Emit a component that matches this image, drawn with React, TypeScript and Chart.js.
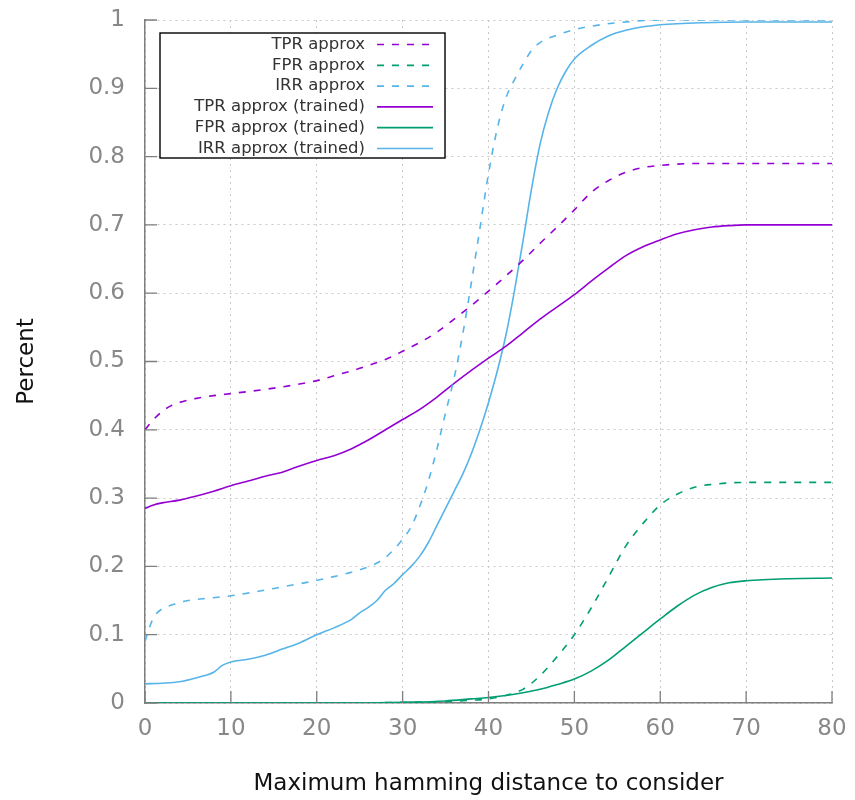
import React, { useEffect, useRef } from "react";
import { Chart, registerables } from "chart.js";
Chart.register(...registerables);

const xTicks = [0, 10, 20, 30, 40, 50, 60, 70, 80];
const yTicks = [0, 0.1, 0.2, 0.3, 0.4, 0.5, 0.6, 0.7, 0.8, 0.9, 1];

const labels = [
  "TPR approx",
  "FPR approx",
  "IRR approx",
  "TPR approx (trained)",
  "FPR approx (trained)",
  "IRR approx (trained)",
];

const tprApproxX = [0, 1, 2, 3, 4, 6, 8, 10, 12, 15, 18, 20, 22, 25, 28, 30, 32, 34, 36, 38, 40, 42, 44, 46, 48, 50, 52, 54, 56, 58, 60, 62, 65, 70, 75, 80];
const tprApproxY = [0.4, 0.415, 0.427, 0.435, 0.44, 0.446, 0.45, 0.453, 0.456, 0.461, 0.467, 0.472, 0.479, 0.49, 0.503, 0.515, 0.528, 0.543, 0.562, 0.582, 0.603, 0.625, 0.648, 0.673, 0.697, 0.722, 0.748, 0.765, 0.777, 0.784, 0.787, 0.789, 0.79, 0.79, 0.79, 0.79];

const fprApproxX = [0, 25, 30, 35, 38, 40, 42, 44, 46, 48, 50, 52, 54, 56, 58, 60, 62, 64, 66, 70, 80];
const fprApproxY = [0, 0, 0.001, 0.002, 0.004, 0.006, 0.011, 0.02, 0.04, 0.068, 0.1, 0.14, 0.185, 0.23, 0.263, 0.29, 0.306, 0.316, 0.32, 0.323, 0.323];

const irrApproxX = [0, 0.5, 1, 2, 3, 5, 7, 10, 13, 16, 19, 22, 25, 27, 28, 29, 30, 31, 32, 33, 34, 35, 36, 37, 38, 39, 40, 41, 42, 43, 44, 45, 46, 48, 50, 52, 55, 60, 80];
const irrApproxY = [0.09, 0.11, 0.125, 0.138, 0.143, 0.15, 0.153, 0.157, 0.163, 0.17, 0.177, 0.185, 0.195, 0.205, 0.213, 0.225, 0.24, 0.258, 0.288, 0.325, 0.372, 0.425, 0.476, 0.54, 0.615, 0.695, 0.775, 0.84, 0.885, 0.912, 0.935, 0.955, 0.967, 0.978, 0.986, 0.991, 0.996, 1, 1];

const tprTrainedX = [0, 1, 2, 4, 6, 8, 10, 12, 14, 16, 18, 20, 22, 24, 26, 28, 30, 32, 34, 36, 38, 40, 42, 44, 46, 48, 50, 52, 54, 56, 58, 60, 62, 64, 66, 68, 70, 75, 80];
const tprTrainedY = [0.285, 0.29, 0.293, 0.297, 0.303, 0.31, 0.318, 0.325, 0.332, 0.338, 0.347, 0.355, 0.362, 0.372, 0.385, 0.4, 0.415, 0.43, 0.448, 0.468, 0.487, 0.505, 0.522, 0.542, 0.562, 0.58, 0.598, 0.618, 0.637, 0.655, 0.668, 0.678, 0.687, 0.693, 0.697, 0.699, 0.7, 0.7, 0.7];

const fprTrainedX = [0, 25, 30, 35, 38, 40, 42, 44, 46, 48, 50, 52, 54, 56, 58, 60, 62, 64, 66, 68, 70, 75, 80];
const fprTrainedY = [0, 0, 0.001, 0.003, 0.006, 0.008, 0.011, 0.015, 0.02, 0.027, 0.035, 0.047, 0.063, 0.083, 0.103, 0.123, 0.142, 0.158, 0.169, 0.176, 0.179, 0.182, 0.183];

const irrTrainedX = [0, 2, 4, 6, 8, 9, 10, 12, 14, 16, 18, 20, 22, 24, 25, 26, 27, 28, 29, 30, 31, 32, 33, 34, 35, 36, 37, 38, 39, 40, 41, 42, 43, 44, 45, 46, 47, 48, 49, 50, 52, 54, 56, 58, 60, 65, 70, 80];
const irrTrainedY = [0.028, 0.029, 0.031, 0.037, 0.045, 0.055, 0.06, 0.064, 0.07, 0.079, 0.088, 0.1, 0.11, 0.122, 0.132, 0.14, 0.15, 0.165, 0.175, 0.188, 0.2, 0.215, 0.235, 0.26, 0.285, 0.31, 0.335, 0.365, 0.4, 0.44, 0.485, 0.537, 0.602, 0.675, 0.752, 0.818, 0.865, 0.9, 0.925, 0.943, 0.963, 0.977, 0.985, 0.99, 0.993, 0.996, 0.997, 0.997];

const PURPLE = "#9400d3";
const GREEN = "#009e73";
const BLUE = "#56b4e9";
const DASH = [7, 8];
const FONT = "'DejaVu Sans', sans-serif";

const zip = (xs: number[], ys: number[]) => xs.map((x, i) => ({ x, y: ys[i] }));

const ds = (label: string, xs: number[], ys: number[], color: string, dashed: boolean) => ({
  label,
  data: zip(xs, ys),
  borderColor: color,
  backgroundColor: color,
  borderWidth: 1.6,
  borderDash: dashed ? DASH : [],
  pointRadius: 0,
  cubicInterpolationMode: "monotone" as const,
  fill: false,
});

const tickPlugin = {
  id: "inwardTicks",
  afterDatasetsDraw(chart: any) {
    const { ctx, chartArea, scales } = chart;
    ctx.save();
    ctx.strokeStyle = "#7f7f7f";
    ctx.lineWidth = 1.3;
    ctx.setLineDash([]);
    ctx.beginPath();
    xTicks.forEach((v) => {
      const px = scales.x.getPixelForValue(v);
      ctx.moveTo(px, chartArea.bottom);
      ctx.lineTo(px, chartArea.bottom - 12);
    });
    yTicks.forEach((v) => {
      const py = scales.y.getPixelForValue(v);
      ctx.moveTo(chartArea.left, py);
      ctx.lineTo(chartArea.left + 12, py);
    });
    ctx.stroke();
    ctx.restore();
  },
};

const legendPlugin = {
  id: "boxLegend",
  afterDraw(chart: any) {
    const { ctx, chartArea } = chart;
    const left = chartArea.left + 15;
    const top = chartArea.top + 13;
    const w = 285;
    const h = 125;
    ctx.save();
    ctx.fillStyle = "#ffffff";
    ctx.fillRect(left, top, w, h);
    ctx.strokeStyle = "#000000";
    ctx.lineWidth = 1.4;
    ctx.setLineDash([]);
    ctx.strokeRect(left, top, w, h);
    ctx.font = "16.5px " + FONT;
    ctx.textAlign = "right";
    ctx.textBaseline = "middle";
    chart.data.datasets.forEach((d: any, i: number) => {
      const y = top + 11.5 + i * 20.8;
      ctx.fillStyle = "#333333";
      ctx.fillText(d.label, left + 205, y);
      ctx.strokeStyle = d.borderColor;
      ctx.lineWidth = 1.7;
      ctx.setLineDash(d.borderDash || []);
      ctx.beginPath();
      ctx.moveTo(left + 217, y);
      ctx.lineTo(left + 273, y);
      ctx.stroke();
    });
    ctx.restore();
  },
};

export default function App() {
  const ref = useRef<HTMLCanvasElement>(null);
  useEffect(() => {
    document.body.style.margin = "0";
    const chart = new Chart(ref.current!, {
      type: "line",
      data: {
        datasets: [
          ds(labels[0], tprApproxX, tprApproxY, PURPLE, true),
          ds(labels[1], fprApproxX, fprApproxY, GREEN, true),
          ds(labels[2], irrApproxX, irrApproxY, BLUE, true),
          ds(labels[3], tprTrainedX, tprTrainedY, PURPLE, false),
          ds(labels[4], fprTrainedX, fprTrainedY, GREEN, false),
          ds(labels[5], irrTrainedX, irrTrainedY, BLUE, false),
        ],
      },
      options: {
        animation: false,
        responsive: false,
        layout: { padding: { top: 20, right: 23, bottom: 0, left: 0 } },
        plugins: { legend: { display: false }, tooltip: { enabled: false } },
        scales: {
          x: {
            type: "linear",
            min: 0,
            max: 80,
            afterFit: (s: any) => { s.height = 97; s.paddingLeft = 0; s.paddingRight = 0; },
            afterBuildTicks: (s: any) => { s.ticks = xTicks.map((v) => ({ value: v })); },
            ticks: { color: "#888888", font: { family: FONT, size: 23 }, padding: 12, maxRotation: 0 },
            grid: { color: "#c8c8c8", lineWidth: 1, drawTicks: false },
            border: { display: true, color: "#7f7f7f", width: 1.5, dash: [2, 4] as any },
            title: { display: true, text: "Maximum hamming distance to consider", color: "#111111", font: { family: FONT, size: 23 }, padding: { top: 0, bottom: 2 } },
          },
          y: {
            type: "linear",
            min: 0,
            max: 1,
            afterFit: (s: any) => { s.width = 145; s.paddingTop = 0; s.paddingBottom = 0; },
            afterBuildTicks: (s: any) => { s.ticks = yTicks.map((v) => ({ value: v })); },
            ticks: { color: "#888888", font: { family: FONT, size: 23 }, padding: 20, callback: (v: any) => String(Math.round(v * 10) / 10) },
            grid: { color: "#c8c8c8", lineWidth: 1, drawTicks: false },
            border: { display: true, color: "#7f7f7f", width: 1.5, dash: [2, 4] as any },
            title: { display: true, text: "Percent", color: "#111111", font: { family: FONT, size: 23 }, padding: { top: 13, bottom: 0 } },
          },
        },
      } as any,
      plugins: [tickPlugin, legendPlugin],
    });
    return () => chart.destroy();
  }, []);
  return (
    <div style={{ position: "relative", width: 855, height: 800 }}>
      <canvas ref={ref} width={855} height={800} style={{ display: "block" }} />
    </div>
  );
}
